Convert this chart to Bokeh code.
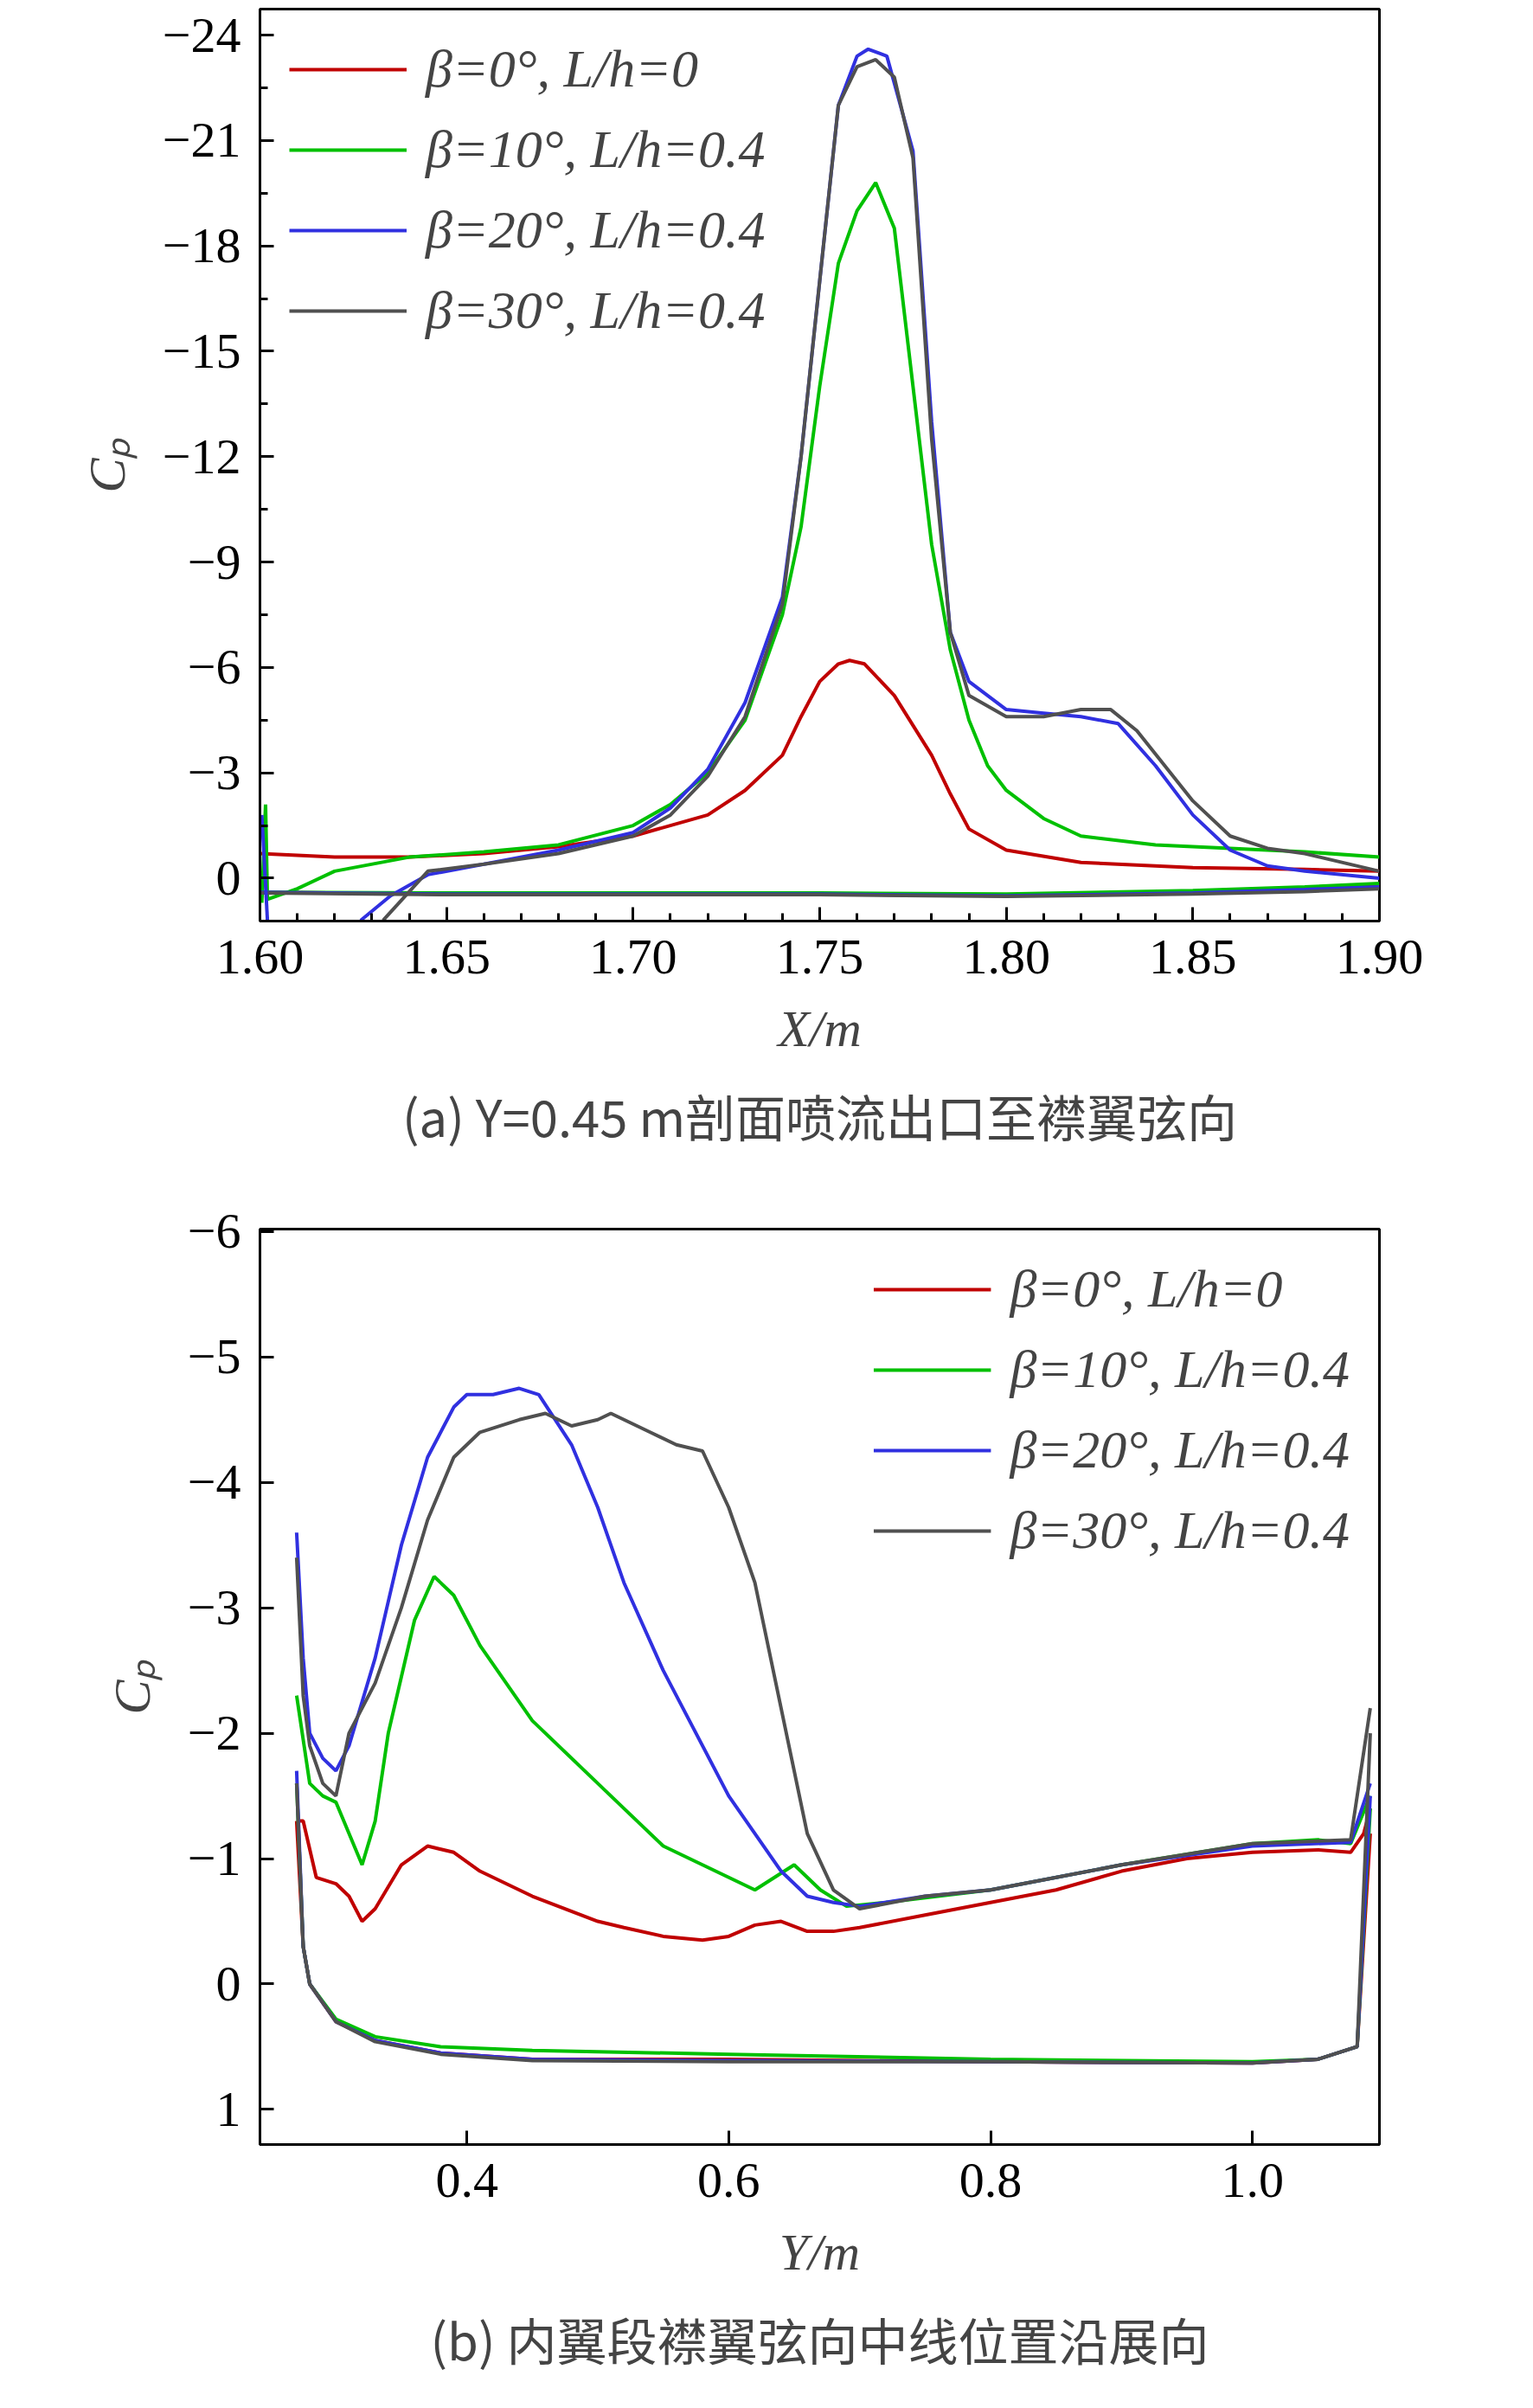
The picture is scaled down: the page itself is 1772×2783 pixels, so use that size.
from bokeh.plotting import figure
from bokeh.layouts import column
from bokeh.models import Range1d, Title, Legend, LegendItem, FixedTicker, CustomJSTickFormatter
from bokeh.embed import file_html
from bokeh.resources import INLINE

# ---- (a) data ----
labels = ["β=0°, L/h=0", "β=10°, L/h=0.4", "β=20°, L/h=0.4", "β=30°, L/h=0.4"]
colors = ["#c00000", "#00c000", "#3030e0", "#505050"]

a_red_x = [1.60,1.62,1.64,1.66,1.68,1.70,1.72,1.73,1.74,1.745,1.75,1.755,1.758,1.762,1.77,1.78,1.785,1.79,1.80,1.82,1.85,1.88,1.90]
a_red_y = [-0.7,-0.6,-0.6,-0.7,-0.9,-1.2,-1.8,-2.5,-3.5,-4.6,-5.6,-6.1,-6.2,-6.1,-5.2,-3.5,-2.4,-1.4,-0.8,-0.45,-0.3,-0.25,-0.2]
a_green_x = [1.6005,1.6015,1.602,1.61,1.62,1.64,1.66,1.68,1.70,1.71,1.72,1.73,1.74,1.745,1.75,1.755,1.76,1.765,1.77,1.775,1.78,1.785,1.79,1.795,1.80,1.81,1.82,1.84,1.86,1.88,1.90]
a_green_y = [0.7,-2.1,0.6,0.3,-0.2,-0.6,-0.75,-0.95,-1.5,-2.1,-3.0,-4.5,-7.5,-10,-14,-17.5,-19,-19.8,-18.5,-14,-9.5,-6.5,-4.5,-3.2,-2.5,-1.7,-1.2,-0.95,-0.85,-0.75,-0.6]
a_blue_x = [1.627,1.635,1.645,1.66,1.68,1.70,1.71,1.72,1.73,1.74,1.745,1.75,1.755,1.76,1.763,1.768,1.775,1.78,1.785,1.79,1.80,1.81,1.82,1.83,1.84,1.85,1.86,1.87,1.88,1.90]
a_blue_y = [1.2,0.5,-0.1,-0.4,-0.8,-1.3,-2.0,-3.1,-5.0,-8.0,-12,-17,-22,-23.4,-23.6,-23.4,-20.7,-13,-7,-5.6,-4.8,-4.7,-4.6,-4.4,-3.2,-1.8,-0.8,-0.35,-0.2,0.0]
a_blue_spike_x = [1.6005,1.602]
a_blue_spike_y = [-1.8,1.2]
a_gray_x = [1.633,1.645,1.66,1.68,1.70,1.71,1.72,1.73,1.74,1.745,1.75,1.755,1.76,1.765,1.77,1.775,1.78,1.785,1.79,1.80,1.81,1.82,1.828,1.835,1.85,1.86,1.87,1.88,1.90]
a_gray_y = [1.2,-0.2,-0.4,-0.7,-1.2,-1.8,-2.9,-4.6,-7.8,-12,-17,-22,-23.1,-23.3,-22.8,-20.5,-12.5,-7,-5.2,-4.6,-4.6,-4.8,-4.8,-4.2,-2.2,-1.2,-0.85,-0.7,-0.2]
a_low_x = [1.60,1.65,1.70,1.75,1.80,1.85,1.88,1.90]
a_low_red = [0.4,0.45,0.45,0.45,0.5,0.4,0.3,0.2]
a_low_green = [0.4,0.42,0.42,0.42,0.45,0.35,0.25,0.15]
a_low_blue = [0.4,0.45,0.45,0.45,0.5,0.42,0.32,0.25]
a_low_gray = [0.42,0.47,0.47,0.47,0.52,0.45,0.38,0.3]

# ---- (b) data ----
b_red_x = [0.27,0.275,0.285,0.30,0.31,0.32,0.33,0.35,0.37,0.39,0.41,0.45,0.50,0.52,0.55,0.58,0.60,0.62,0.64,0.66,0.68,0.70,0.75,0.80,0.85,0.90,0.95,1.00,1.05,1.075,1.085,1.09]
b_red_y = [-1.3,-1.3,-0.85,-0.8,-0.7,-0.5,-0.6,-0.95,-1.1,-1.05,-0.9,-0.7,-0.5,-0.45,-0.38,-0.35,-0.38,-0.47,-0.5,-0.42,-0.42,-0.45,-0.55,-0.65,-0.75,-0.9,-1.0,-1.05,-1.07,-1.05,-1.2,-1.4]
b_green_x = [0.27,0.28,0.29,0.30,0.31,0.32,0.33,0.34,0.36,0.375,0.39,0.41,0.45,0.50,0.52,0.55,0.58,0.60,0.62,0.635,0.65,0.67,0.69,0.72,0.80,0.90,1.00,1.05,1.075,1.09]
b_green_y = [-2.3,-1.6,-1.5,-1.45,-1.2,-0.95,-1.3,-2.0,-2.9,-3.25,-3.1,-2.7,-2.1,-1.6,-1.4,-1.1,-0.95,-0.85,-0.75,-0.85,-0.95,-0.75,-0.62,-0.65,-0.75,-0.95,-1.12,-1.15,-1.12,-1.5]
b_blue_x = [0.27,0.275,0.28,0.29,0.30,0.31,0.33,0.35,0.37,0.39,0.40,0.42,0.44,0.455,0.48,0.50,0.52,0.55,0.57,0.60,0.62,0.64,0.66,0.68,0.70,0.75,0.80,0.90,1.00,1.075,1.09]
b_blue_y = [-3.6,-2.6,-2.0,-1.8,-1.7,-1.9,-2.6,-3.5,-4.2,-4.6,-4.7,-4.7,-4.75,-4.7,-4.3,-3.8,-3.2,-2.5,-2.1,-1.5,-1.2,-0.9,-0.7,-0.65,-0.62,-0.7,-0.75,-0.95,-1.1,-1.13,-1.6]
b_gray_x = [0.27,0.275,0.28,0.29,0.30,0.31,0.33,0.35,0.37,0.39,0.41,0.44,0.46,0.48,0.50,0.51,0.54,0.56,0.58,0.60,0.62,0.64,0.66,0.68,0.70,0.75,0.80,0.90,1.00,1.075,1.09]
b_gray_y = [-3.4,-2.3,-1.9,-1.6,-1.5,-2.0,-2.4,-3.0,-3.7,-4.2,-4.4,-4.5,-4.55,-4.45,-4.5,-4.55,-4.4,-4.3,-4.25,-3.8,-3.2,-2.2,-1.2,-0.75,-0.6,-0.7,-0.75,-0.95,-1.12,-1.15,-2.2]
b_low_x = [0.27,0.275,0.28,0.30,0.33,0.38,0.45,0.60,0.80,1.00,1.05,1.08,1.09]
b_low_red = [-1.3,-0.3,0.0,0.3,0.45,0.55,0.6,0.6,0.62,0.63,0.6,0.5,-1.2]
b_low_green = [-1.6,-0.3,0.0,0.28,0.42,0.5,0.53,0.56,0.6,0.62,0.6,0.5,-1.4]
b_low_blue = [-1.7,-0.3,0.0,0.3,0.45,0.55,0.6,0.61,0.62,0.63,0.6,0.5,-1.5]
b_low_gray = [-1.6,-0.3,0.0,0.3,0.46,0.56,0.61,0.62,0.62,0.63,0.6,0.5,-2.0]

SERIF = "Liberation Serif"
FS = "58px"

def style(p, yt, xt, xdig):
    p.outline_line_color = "black"
    p.outline_line_width = 3
    p.outline_line_alpha = 1
    p.grid.visible = False
    for ax in (p.xaxis[0], p.yaxis[0]):
        ax.axis_line_width = 3
        ax.major_tick_in = 16
        ax.major_tick_out = 0
        ax.minor_tick_in = 9
        ax.minor_tick_out = 0
        ax.major_tick_line_width = 3
        ax.minor_tick_line_width = 3
        ax.major_label_text_font = SERIF
        ax.major_label_text_font_size = FS
        ax.major_label_text_color = "black"
        ax.major_label_standoff = 22
        ax.axis_label_text_font = SERIF
        ax.axis_label_text_font_size = "60px"
        ax.axis_label_text_font_style = "italic"
        ax.axis_label_standoff = 28
    p.yaxis.ticker = yt
    p.xaxis.ticker = xt
    p.yaxis.formatter = CustomJSTickFormatter(code="return (tick < 0 ? '\u2212' : '') + Math.abs(tick).toString();")
    p.xaxis.formatter = CustomJSTickFormatter(code="return tick.toFixed(%d);" % xdig)

def legend(p, rs, loc):
    lg = Legend(items=[LegendItem(label=l, renderers=[r]) for l, r in zip(labels, rs)],
                location=loc, border_line_alpha=0, background_fill_alpha=0,
                label_text_font=SERIF, label_text_font_size="62px", label_text_font_style="italic",
                glyph_width=136, glyph_height=70, spacing=22, label_standoff=22, padding=14, margin=20)
    p.add_layout(lg)

def caption(p, text):
    p.add_layout(Title(text=text, align="center", text_font="Noto Sans CJK SC",
                       text_font_size="58px", text_font_style="normal", standoff=40), "below")

# ---- figure a ----
pa = figure(x_range=Range1d(1.6, 1.9), y_range=Range1d(1.22, -24.74),
            output_backend="svg", toolbar_location=None, frame_width=1294, frame_height=1054,
            min_border_left=300, min_border_top=10, min_border_right=150, min_border_bottom=20)
ua = [(a_red_x, a_red_y), (a_green_x, a_green_y), (a_blue_x, a_blue_y), (a_gray_x, a_gray_y)]
la = [a_low_red, a_low_green, a_low_blue, a_low_gray]
rs = []
for (x, y), low, c in zip(ua, la, colors):
    rs.append(pa.line(x, y, color=c, line_width=4))
    pa.line(a_low_x, low, color=c, line_width=4)
pa.line(a_blue_spike_x, a_blue_spike_y, color=colors[2], line_width=4)
ta = FixedTicker(ticks=[-24, -21, -18, -15, -12, -9, -6, -3, 0], minor_ticks=[-24 + 1.5 * i for i in range(-1, 18)])
xa = FixedTicker(ticks=[1.6, 1.65, 1.7, 1.75, 1.8, 1.85, 1.9], minor_ticks=[round(1.6 + 0.01 * i, 2) for i in range(31)])
style(pa, ta, xa, 2)
pa.xaxis.axis_label = "X/m"
pa.yaxis.axis_label = "Cₚ"
legend(pa, rs, "top_left")
caption(pa, "(a) Y=0.45 m剖面喷流出口至襟翼弦向")

# ---- figure b ----
pb = figure(x_range=Range1d(0.242, 1.097), y_range=Range1d(1.28, -6.02),
            output_backend="svg", toolbar_location=None, frame_width=1294, frame_height=1058,
            min_border_left=300, min_border_top=70, min_border_right=150, min_border_bottom=10)
ub = [(b_red_x, b_red_y), (b_green_x, b_green_y), (b_blue_x, b_blue_y), (b_gray_x, b_gray_y)]
lb = [b_low_red, b_low_green, b_low_blue, b_low_gray]
rs = []
for (x, y), low, c in zip(ub, lb, colors):
    rs.append(pb.line(x, y, color=c, line_width=4))
    pb.line(b_low_x, low, color=c, line_width=4)
tb = FixedTicker(ticks=[-6, -5, -4, -3, -2, -1, 0, 1], minor_ticks=[])
xb = FixedTicker(ticks=[0.4, 0.6, 0.8, 1.0], minor_ticks=[])
style(pb, tb, xb, 1)
pb.xaxis.axis_label = "Y/m"
pb.yaxis.axis_label = "Cₚ"
legend(pb, rs, "top_right")
caption(pb, "(b) 内翼段襟翼弦向中线位置沿展向")

layout = column(pa, pb, spacing=0)
open("out.html", "w").write(file_html(layout, INLINE))
